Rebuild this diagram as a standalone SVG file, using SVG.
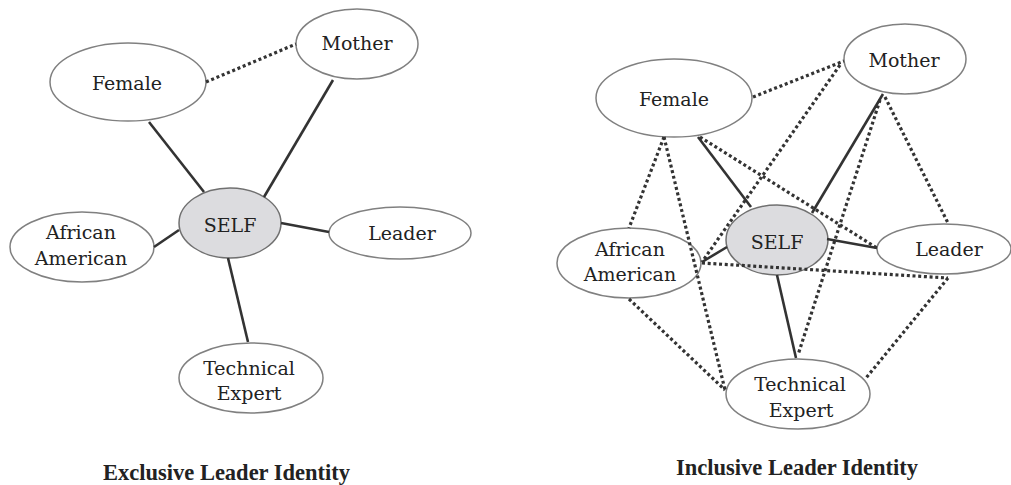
<svg xmlns="http://www.w3.org/2000/svg" width="1011" height="485" viewBox="0 0 1011 485">
<style>
.bg{fill:#ffffff}
.node ellipse{fill:#ffffff;stroke:#808080;stroke-width:1.5}
.node.self ellipse{fill:#dcdcdf;stroke:#707070}
.node text{font-family:"DejaVu Serif","Liberation Serif",serif;font-size:19px;fill:#222;text-anchor:middle}
.solid{stroke:#333;stroke-width:2.6;fill:none}
.dot{stroke:#333;stroke-width:3.2;stroke-dasharray:3 2.7;fill:none}
.cap{font-family:"Liberation Serif","DejaVu Serif",serif;font-weight:bold;font-size:22.5px;fill:#222}
</style>
<rect class="bg" x="0" y="0" width="1011" height="485"/>

<!-- Left diagram nodes -->
<g id="L-female" class="node"><ellipse cx="128" cy="82" rx="78" ry="39"/><text x="127" y="90">Female</text></g>
<g id="L-mother" class="node"><ellipse cx="357" cy="44" rx="61" ry="35"/><text x="357" y="50">Mother</text></g>
<g id="L-self" class="node self"><ellipse cx="230" cy="223" rx="51" ry="35"/><text x="230" y="232">SELF</text></g>
<g id="L-african" class="node"><ellipse cx="82" cy="247" rx="72" ry="35"/><text x="81" y="239">African</text><text x="81" y="265">American</text></g>
<g id="L-leader" class="node"><ellipse cx="400" cy="233" rx="71" ry="26"/><text x="402" y="240">Leader</text></g>
<g id="L-tech" class="node"><ellipse cx="251" cy="378" rx="72" ry="35"/><text x="249" y="375">Technical</text><text x="249" y="400">Expert</text></g>

<!-- Right diagram nodes -->
<g id="R-female" class="node"><ellipse cx="674" cy="98" rx="78" ry="39"/><text x="674" y="106">Female</text></g>
<g id="R-mother" class="node"><ellipse cx="905" cy="59" rx="61" ry="35"/><text x="904" y="67">Mother</text></g>
<g id="R-self" class="node self"><ellipse cx="777" cy="240" rx="51" ry="35"/><text x="777" y="249">SELF</text></g>
<g id="R-african" class="node"><ellipse cx="629" cy="263" rx="72" ry="35"/><text x="630" y="256">African</text><text x="630" y="281">American</text></g>
<g id="R-leader" class="node"><ellipse cx="944" cy="249" rx="67" ry="25"/><text x="949" y="256">Leader</text></g>
<g id="R-tech" class="node"><ellipse cx="798" cy="394" rx="72" ry="35"/><text x="800" y="391">Technical</text><text x="801" y="417">Expert</text></g>

<g id="connectors">
  <!-- left -->
  <line class="dot" x1="206" y1="82" x2="296" y2="44"/>
  <line class="solid" x1="149" y1="122" x2="204" y2="192"/>
  <line class="solid" x1="333" y1="80" x2="264" y2="197"/>
  <line class="solid" x1="281" y1="223" x2="329" y2="232"/>
  <line class="solid" x1="179" y1="230" x2="154" y2="247"/>
  <line class="solid" x1="228" y1="258" x2="248" y2="342"/>
  <!-- right solid -->
  <line class="solid" x1="698" y1="137" x2="751" y2="207"/>
  <line class="solid" x1="883" y1="94" x2="812" y2="213"/>
  <line class="solid" x1="827" y1="239" x2="877" y2="248"/>
  <line class="solid" x1="727" y1="247" x2="702" y2="262"/>
  <line class="solid" x1="777" y1="275" x2="796" y2="358"/>
  <!-- right dotted -->
  <line class="dot" x1="753" y1="97" x2="844" y2="61"/>
  <line class="dot" x1="840" y1="65" x2="702" y2="262"/>
  <line class="dot" x1="880" y1="100" x2="798" y2="355"/>
  <line class="dot" x1="885" y1="97" x2="948" y2="223"/>
  <line class="dot" x1="664" y1="137" x2="629" y2="228"/>
  <line class="dot" x1="664" y1="137" x2="725" y2="390"/>
  <line class="dot" x1="700" y1="137" x2="877" y2="248"/>
  <line class="dot" x1="702" y1="263" x2="948" y2="278"/>
  <line class="dot" x1="629" y1="299" x2="725" y2="390"/>
  <line class="dot" x1="948" y1="278" x2="866" y2="378"/>
</g>

<text class="cap" x="103" y="480">Exclusive Leader Identity</text>
<text class="cap" x="676" y="475">Inclusive Leader Identity</text>
</svg>
